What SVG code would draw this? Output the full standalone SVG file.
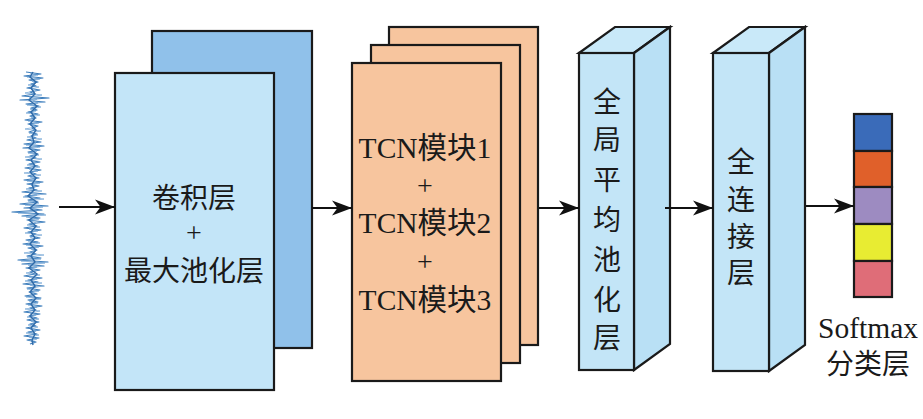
<svg xmlns="http://www.w3.org/2000/svg" width="923" height="419" viewBox="0 0 923 419">
<defs>
<marker id="ah" markerUnits="userSpaceOnUse" markerWidth="22" markerHeight="18" refX="20" refY="9" orient="auto">
<path d="M0,1.5 L20,9 L0,16.5 L5.5,9 Z" fill="#111111"/>
</marker>
</defs>
<style>
.edge{stroke:#111111;stroke-width:2;fill:none}
.box{stroke:#1a1a1a;stroke-width:2.2;stroke-linejoin:miter}
.t{font-family:"Liberation Serif","Noto Sans CJK SC",serif;font-size:28px;fill:#1a1a1a;text-anchor:middle}
.lat{font-size:29.5px}
.blue{fill:#c3e5f7}
.blueside{fill:#b9e0f5}
.bluetop{fill:#c9e9f9}
</style>
<rect width="923" height="419" fill="#ffffff"/>
<g id="signal">
<polyline fill="none" stroke="#3f7fbd" stroke-width="1.2" stroke-linejoin="round" points="26,72 41,74 24,76 43,78 29,80 38,82 31,84 36,86 27,88 40,90 30,92 35,94 22,96 49,98 20,100 45,102 26,104 39,106 31,108 37,110 28,112 38,114 30,116 36,118 25,120 42,122 28,124 38,126 32,128 35,130 29,132 37,134 31,136 36,138 27,140 41,142 24,144 44,146 23,148 40,150 28,152 38,154 30,156 36,158 26,160 40,162 29,164 38,166 25,168 41,170 30,172 36,174 28,176 39,178 24,180 43,182 27,184 39,186 29,188 37,190 22,192 46,194 25,196 40,198 28,200 38,202 20,204 48,206 24,208 42,210 12,212 44,214 22,216 40,218 27,220 45,222 29,224 37,226 24,228 41,230 28,232 36,234 30,236 40,238 26,240 38,242 23,244 43,246 28,248 37,250 30,252 36,254 27,256 41,258 18,260 48,262 22,264 44,266 26,268 40,270 30,272 35,274 24,276 42,278 28,280 38,282 23,284 44,286 27,288 40,290 29,292 37,294 25,296 41,298 28,300 38,302 26,304 42,306 30,308 36,310 24,312 40,314 29,316 37,318 27,320 39,322 30,324 36,326 26,328 40,330 28,332 37,334 24,336 39,338 27,340 36,342 30,344"/>
<polyline fill="none" stroke="#6a9fd2" stroke-width="0.9" opacity="0.75" points="30,73 38,75 27,77 40,79 32,81 35,83 28,85 39,87 31,89 34,91 25,93 42,95 29,97 37,99 33,101 38,103 27,105 41,107 30,109 36,111 26,113 40,115 31,117 35,119 28,121 39,123 30,125 36,127 25,129 41,131 29,133 38,135 27,137 42,139 31,141 36,143 26,145 40,147 30,149 37,151 28,153 39,155 25,157 42,159 31,161 35,163 27,165 40,167 29,169 38,171 24,173 41,175 30,177 36,179 27,181 40,183 31,185 35,187 26,189 42,191 29,193 37,195 23,197 44,199 28,201 39,203 25,205 43,207 30,209 37,211 18,213 46,215 26,217 39,219 31,221 36,223 27,225 40,227 29,229 38,231 25,233 42,235 30,237 35,239 28,241 40,243 26,245 39,247 31,249 36,251 24,253 44,255 27,257 41,259 21,261 45,263 28,265 37,267 31,269 36,271 26,273 40,275 29,277 37,279 25,281 42,283 30,285 36,287 27,289 39,291 31,293 35,295 26,297 41,299 29,301 38,303 28,305 37,307 25,309 40,311 30,313 36,315 27,317 39,319 31,321 35,323 28,325 38,327 30,329 36,331 26,333 39,335 29,337 37,339 31,341 35,343"/>
<polyline fill="none" stroke="#2f6aa8" stroke-width="1.4" points="33,72 30,77 36,82 31,88 35,94 29,100 37,106 31,112 35,118 30,124 36,130 32,136 34,142 29,148 37,154 31,160 35,166 30,172 36,178 32,184 34,190 28,196 37,202 30,208 38,214 29,220 36,226 31,232 35,238 30,244 36,250 31,256 35,262 29,268 37,274 31,280 35,286 30,292 36,298 31,304 35,310 30,316 36,322 31,328 35,334 32,340 33,345"/>
</g>
<g id="conv">
<rect class="box" x="152" y="31" width="160" height="317" fill="#90c1ea"/>
<rect class="box" x="115" y="73" width="159" height="317" fill="#c3e5f8"/>
<text class="t" x="194" y="208">卷积层</text>
<text class="t" x="194" y="242">+</text>
<text class="t" x="194" y="281">最大池化层</text>
</g>
<g id="tcn">
<rect class="box" x="389" y="27" width="149" height="318" fill="#f7c59e"/>
<rect class="box" x="371" y="45" width="149" height="318" fill="#f7c59e"/>
<rect class="box" x="352" y="63" width="149" height="318" fill="#f7c59e"/>
<text class="t lat" x="425" y="158">TCN模块1</text>
<text class="t" x="425" y="195">+</text>
<text class="t lat" x="425" y="233">TCN模块2</text>
<text class="t" x="425" y="271">+</text>
<text class="t lat" x="425" y="310">TCN模块3</text>
</g>
<g id="gap">
<polygon class="box bluetop" points="579,53 634,53 670,27 615,27"/>
<polygon class="box blueside" points="634,53 670,27 670,344 634,370"/>
<rect class="box blue" x="579" y="53" width="55" height="317"/>
<text class="t" x="607" y="112">全</text>
<text class="t" x="607" y="150">局</text>
<text class="t" x="607" y="190">平</text>
<text class="t" x="607" y="230">均</text>
<text class="t" x="607" y="270">池</text>
<text class="t" x="607" y="310">化</text>
<text class="t" x="607" y="348">层</text>
</g>
<g id="fc">
<polygon class="box bluetop" points="713,53 769,53 805,27 749,27"/>
<polygon class="box blueside" points="769,53 805,27 805,345 769,371"/>
<rect class="box blue" x="713" y="53" width="56" height="318"/>
<text class="t" x="741" y="172">全</text>
<text class="t" x="741" y="210">连</text>
<text class="t" x="741" y="247">接</text>
<text class="t" x="741" y="283">层</text>
</g>
<g id="softmax">
<rect class="box" x="854" y="114" width="38" height="37" fill="#3a6bb9"/>
<rect class="box" x="854" y="151" width="38" height="36" fill="#e0602a"/>
<rect class="box" x="854" y="187" width="38" height="37" fill="#9d8bc1"/>
<rect class="box" x="854" y="224" width="38" height="37" fill="#e8ec32"/>
<rect class="box" x="854" y="261" width="38" height="36" fill="#df6d78"/>
<text class="t lat" x="868" y="338">Softmax</text>
<text class="t" x="868" y="374">分类层</text>
</g>
<g id="connectors">
<line class="edge" x1="59" y1="207" x2="115" y2="207" marker-end="url(#ah)"/>
<line class="edge" x1="312" y1="208" x2="352" y2="208" marker-end="url(#ah)"/>
<line class="edge" x1="539" y1="208" x2="579" y2="208" marker-end="url(#ah)"/>
<line class="edge" x1="665" y1="208" x2="713" y2="208" marker-end="url(#ah)"/>
<line class="edge" x1="806" y1="206" x2="854" y2="206" marker-end="url(#ah)"/>
</g>
</svg>
